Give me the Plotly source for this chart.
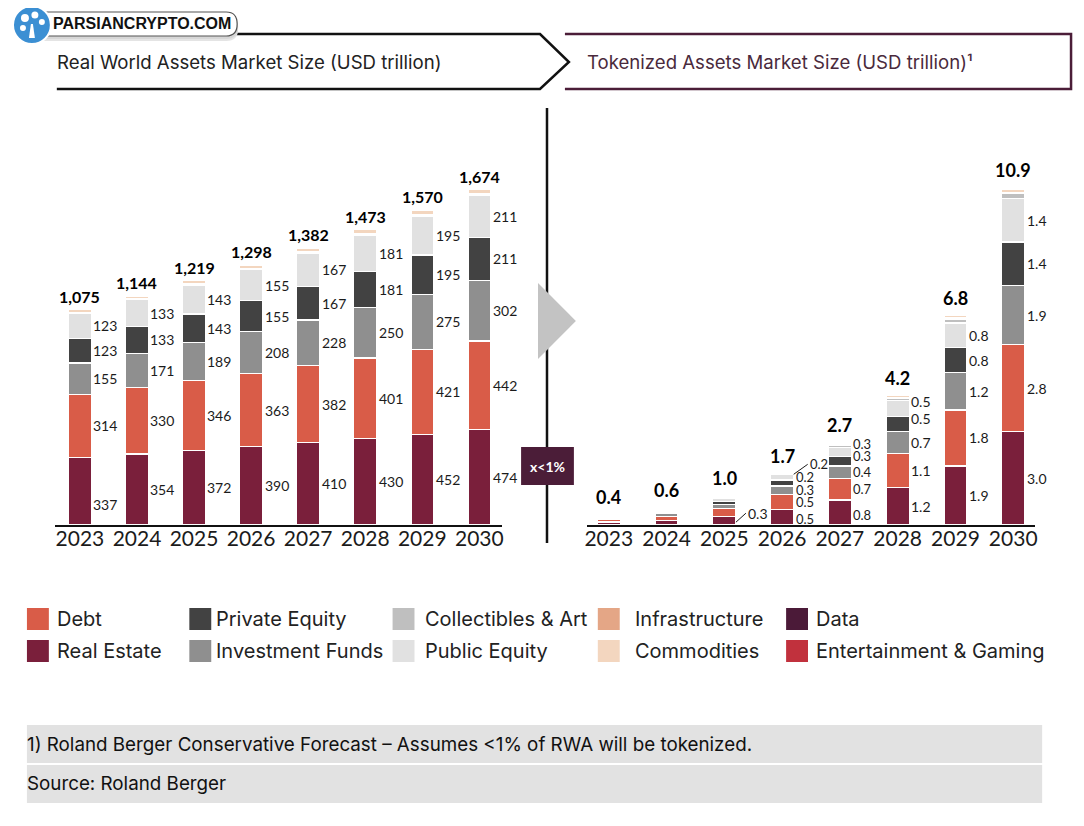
import plotly.graph_objects as go

# The page body has an 8px margin, so the figure is sized to fit the window exactly
OFF = 8
W, H = 1084 - OFF, 826 - OFF

# ---------------- DATA ----------------
years = ["2023", "2024", "2025", "2026", "2027", "2028", "2029", "2030"]
categories = ["Real Estate", "Debt", "Investment Funds", "Private Equity", "Public Equity",
              "Collectibles & Art", "Infrastructure", "Commodities", "Data", "Entertainment & Gaming"]

# Real World Assets (USD trillion)
rwa_real_estate = [337, 354, 372, 390, 410, 430, 452, 474]
rwa_debt = [314, 330, 346, 363, 382, 401, 421, 442]
rwa_investment_funds = [155, 171, 189, 208, 228, 250, 275, 302]
rwa_private_equity = [123, 133, 143, 155, 167, 181, 195, 211]
rwa_public_equity = [123, 133, 143, 155, 167, 181, 195, 211]
rwa_collectibles = [3, 3, 4, 4, 4, 4, 5, 5]
rwa_infrastructure = [2, 2, 2, 2, 2, 3, 3, 3]
rwa_commodities = [14, 14, 16, 17, 18, 19, 20, 22]
rwa_data = [2, 2, 2, 2, 2, 2, 2, 2]
rwa_entertainment = [2, 2, 2, 2, 2, 2, 2, 2]
rwa_totals = [1075, 1144, 1219, 1298, 1382, 1473, 1570, 1674]

# Tokenized Assets (USD trillion)
tok_real_estate = [0.1, 0.15, 0.28, 0.5, 0.8, 1.2, 1.9, 3.0]
tok_debt = [0.09, 0.13, 0.24, 0.47, 0.7, 1.1, 1.8, 2.8]
tok_investment_funds = [0.05, 0.08, 0.14, 0.28, 0.4, 0.7, 1.2, 1.9]
tok_private_equity = [0.04, 0.06, 0.1, 0.2, 0.3, 0.5, 0.8, 1.4]
tok_public_equity = [0.04, 0.06, 0.1, 0.18, 0.3, 0.5, 0.8, 1.4]
tok_collectibles = [0.03, 0.04, 0.04, 0.03, 0.06, 0.06, 0.1, 0.15]
tok_infrastructure = [0.01, 0.02, 0.02, 0.01, 0.03, 0.04, 0.06, 0.05]
tok_commodities = [0.02, 0.03, 0.04, 0.02, 0.05, 0.06, 0.08, 0.1]
tok_data = [0.01, 0.02, 0.02, 0.01, 0.03, 0.02, 0.03, 0.05]
tok_entertainment = [0.01, 0.01, 0.02, 0.0, 0.03, 0.02, 0.03, 0.05]
tok_totals = [0.4, 0.6, 1.0, 1.7, 2.7, 4.2, 6.8, 10.9]

# legend layout (columns x rows as in the reference)
legend_grid = [["Debt", "Real Estate"], ["Private Equity", "Investment Funds"],
               ["Collectibles & Art", "Public Equity"], ["Infrastructure", "Commodities"],
               ["Data", "Entertainment & Gaming"]]

left_title = "Real World Assets Market Size (USD trillion)"
right_title = "Tokenized Assets Market Size (USD trillion)¹"
footnote = "1) Roland Berger Conservative Forecast – Assumes <1% of RWA will be tokenized."
source = "Source: Roland Berger"
badge = "x<1%"
logo_text = "PARSIANCRYPTO.COM"

# ---------------- STYLE ----------------
colors = {
    "Real Estate": "#7a1f3b",
    "Debt": "#d95c48",
    "Investment Funds": "#8f8f8f",
    "Private Equity": "#424242",
    "Public Equity": "#e1e1e1",
    "Collectibles & Art": "#bfbfbf",
    "Infrastructure": "#e4a686",
    "Commodities": "#f3d6bf",
    "Data": "#4b1a38",
    "Entertainment & Gaming": "#c1313d",
}
NUMFONT = "Lato"
FONT = "Inter"
TXT = "#1b1b1b"
MAROON = "#4b1d38"

rwa = [rwa_real_estate, rwa_debt, rwa_investment_funds, rwa_private_equity, rwa_public_equity,
       rwa_collectibles, rwa_infrastructure, rwa_commodities, rwa_data, rwa_entertainment]
tok = [tok_real_estate, tok_debt, tok_investment_funds, tok_private_equity, tok_public_equity,
       tok_collectibles, tok_infrastructure, tok_commodities, tok_data, tok_entertainment]

xi = list(range(len(years)))


def px(x):
    return (x - OFF) / W


def py(y):
    return 1 - (y - OFF) / H


fig = go.Figure()
for name, vals in zip(categories, rwa):
    fig.add_trace(go.Bar(x=xi, y=vals, name=name, width=0.4, marker_color=colors[name],
                         marker_line=dict(color="white", width=1.3), xaxis="x", yaxis="y",
                         showlegend=False, hoverinfo="skip"))
for name, vals in zip(categories, tok):
    fig.add_trace(go.Bar(x=xi, y=vals, name=name, width=0.4, marker_color=colors[name],
                         marker_line=dict(color="white", width=1.3), xaxis="x2", yaxis="y2",
                         showlegend=False, hoverinfo="skip"))

ann = []
lab_font = dict(family=NUMFONT, size=14, color=TXT)
small_font = dict(family=NUMFONT, size=13, color=TXT)
# Left segment labels + totals
left_adj = {(0, 0): -13}
for i in xi:
    base = 0
    for k in range(5):
        v = rwa[k][i]
        ann.append(dict(x=i + 0.2, y=base + v / 2, xref="x", yref="y", text=f"{v}",
                        showarrow=False, xanchor="left", yanchor="middle",
                        yshift=left_adj.get((i, k), 0), font=lab_font))
        base += v
    ann.append(dict(x=i, y=sum(r[i] for r in rwa), xref="x", yref="y",
                    text=f"<b>{rwa_totals[i]:,}</b>", showarrow=False, xanchor="center",
                    yanchor="bottom", yshift=1, font=dict(family=NUMFONT, size=16, color="#000")))

# Right segment labels (small stacks need slight vertical spreading)
right_adj = {(3, 0): -2, (3, 2): 0, (3, 3): 6, (4, 0): -2, (4, 3): 5, (4, 4): 8,
             (5, 3): 5, (5, 4): 7}
for i in xi:
    base = 0
    f = small_font if i in (3, 4) else lab_font
    for k in range(5):
        v = tok[k][i]
        label = f"{v:.1f}"
        if i >= 3:
            if i == 3 and k == 4:
                ann.append(dict(x=i + 0.2, y=base + v, xref="x2", yref="y2", text=label,
                                showarrow=True, arrowhead=0, arrowwidth=1, arrowcolor=TXT,
                                ax=14, ay=-10, xanchor="left", yanchor="middle", font=f))
            else:
                ann.append(dict(x=i + 0.2, y=base + v / 2, xref="x2", yref="y2", text=label,
                                showarrow=False, xanchor="left", yanchor="middle",
                                yshift=right_adj.get((i, k), 0), font=f))
        elif i == 2 and k == 0:
            ann.append(dict(x=i + 0.2, y=base + v / 2 - 0.05, xref="x2", yref="y2", text=label,
                            showarrow=True, arrowhead=0, arrowwidth=1, arrowcolor=TXT,
                            ax=10, ay=-9, xanchor="left", yanchor="middle", font=lab_font))
        base += v
    ann.append(dict(x=i, y=sum(r[i] for r in tok), xref="x2", yref="y2",
                    text=f"<b>{tok_totals[i]:.1f}</b>", showarrow=False, xanchor="center",
                    yanchor="bottom", yshift=3, font=dict(family=NUMFONT, size=18, color="#000")))


def paper_text(x, y, text, size, color, anchor="left", family=FONT):
    ann.append(dict(x=px(x), y=py(y), xref="paper", yref="paper", xanchor=anchor,
                    yanchor="middle", text=text, showarrow=False,
                    font=dict(family=family, size=size, color=color)))


shapes = []
# Left header chevron
shapes.append(dict(type="path", xref="paper", yref="paper",
                   path=f"M {px(200)},{py(34)} L {px(540)},{py(34)} L {px(569)},{py(62)} "
                        f"L {px(540)},{py(89)} L {px(55)},{py(89)}",
                   line=dict(color="#111", width=2.5)))
# Right header box (open on the left)
shapes.append(dict(type="path", xref="paper", yref="paper",
                   path=f"M {px(565)},{py(34)} L {px(1073)},{py(34)} L {px(1073)},{py(89)} "
                        f"L {px(565)},{py(89)}",
                   line=dict(color=MAROON, width=2.5)))
paper_text(53, 62, left_title, 18.6, "#222")
paper_text(585, 62, right_title, 18.6, "#4a2a3c")

# Logo pill (with soft shadow)
for dy, col in [(5, "#e4e4e4"), (3, "#d6d6d6")]:
    shapes.append(dict(type="path", xref="paper", yref="paper",
                       path=f"M {px(40)},{py(12 + dy)} L {px(225)},{py(12 + dy)} "
                            f"Q {px(237)},{py(12 + dy)} {px(237)},{py(24 + dy)} "
                            f"Q {px(237)},{py(36 + dy)} {px(225)},{py(36 + dy)} L {px(40)},{py(36 + dy)} Z",
                       fillcolor=col, line=dict(width=0), layer="above"))
shapes.append(dict(type="path", xref="paper", yref="paper",
                   path=f"M {px(40)},{py(12)} L {px(225)},{py(12)} Q {px(236)},{py(12)} {px(236)},{py(24)} "
                        f"Q {px(236)},{py(36)} {px(225)},{py(36)} L {px(40)},{py(36)} Z",
                   fillcolor="white", line=dict(color="#555", width=1.2), layer="above"))
shapes.append(dict(type="circle", xref="paper", yref="paper",
                   x0=px(11), x1=px(49), y0=py(44), y1=py(6),
                   fillcolor="#3b8fd3", line=dict(color="white", width=2), layer="above"))
for cx, cy, r in [(23, 18, 4), (33, 15, 3.5), (40, 22, 3), (21, 28, 3)]:
    shapes.append(dict(type="circle", xref="paper", yref="paper",
                       x0=px(cx - r), x1=px(cx + r), y0=py(cy + r), y1=py(cy - r),
                       fillcolor="white", line=dict(width=0), layer="above"))
shapes.append(dict(type="path", xref="paper", yref="paper",
                   path=f"M {px(27)},{py(38)} L {px(29)},{py(24)} L {px(31)},{py(24)} L {px(33)},{py(38)} Z",
                   fillcolor="white", line=dict(width=0), layer="above"))
paper_text(140, 24, f"<b>{logo_text}</b>", 16, "#111", anchor="center", family="Liberation Sans")

# Divider, arrow and ratio badge
shapes.append(dict(type="line", xref="paper", yref="paper", x0=px(547), x1=px(547),
                   y0=py(108), y1=py(543), line=dict(color="#111", width=2.5)))
shapes.append(dict(type="path", xref="paper", yref="paper",
                   path=f"M {px(538)},{py(283)} L {px(576)},{py(321)} L {px(538)},{py(359)} Z",
                   fillcolor="#c3c3c3", line=dict(width=0)))
shapes.append(dict(type="rect", xref="paper", yref="paper", x0=px(521), x1=px(574),
                   y0=py(485), y1=py(447), fillcolor=MAROON, line=dict(width=0)))
paper_text(547.5, 466, f"<b>{badge}</b>", 14, "white", anchor="center", family=NUMFONT)

# Legend
sq_x = [25, 188, 392, 598, 787]
tx_x = [53, 213, 423, 633, 815]
row_y = [619, 651]
for c, col in enumerate(legend_grid):
    for r, name in enumerate(col):
        shapes.append(dict(type="rect", xref="paper", yref="paper",
                           x0=px(sq_x[c]), x1=px(sq_x[c] + 22),
                           y0=py(row_y[r] + 11), y1=py(row_y[r] - 11),
                           fillcolor=colors[name], line=dict(width=0)))
        paper_text(tx_x[c], row_y[r], name, 20, "#222")

# Footer bands
shapes.append(dict(type="rect", xref="paper", yref="paper", x0=px(25), x1=px(1044),
                   y0=py(763), y1=py(725), fillcolor="#e2e2e2", line=dict(width=0)))
shapes.append(dict(type="rect", xref="paper", yref="paper", x0=px(25), x1=px(1044),
                   y0=py(803), y1=py(765), fillcolor="#e2e2e2", line=dict(width=0)))
paper_text(23, 744, footnote, 18.8, "#111")
paper_text(23, 783, source, 18.8, "#111")

axis_common = dict(showgrid=False, zeroline=False, ticks="", showline=True,
                   linecolor="#111", linewidth=2, tickmode="array", tickvals=xi,
                   ticktext=years, tickfont=dict(family=NUMFONT, size=21, color=TXT),
                   ticklabelstandoff=-6, fixedrange=True)

fig.update_layout(
    width=W, height=H, margin=dict(l=0, r=0, t=0, b=0),
    paper_bgcolor="white", plot_bgcolor="white",
    barmode="stack", showlegend=False,
    xaxis=dict(domain=[px(53), px(502)], range=[-0.44, 7.4], anchor="y", **axis_common),
    yaxis=dict(domain=[py(525), py(150)], range=[0, 375 / 0.201], visible=False, anchor="x"),
    xaxis2=dict(domain=[px(587), px(1037)], range=[-0.38, 7.38], anchor="y2", **axis_common),
    yaxis2=dict(domain=[py(525), py(150)], range=[0, 375 / 31.1], visible=False, anchor="x2"),
    shapes=shapes, annotations=ann,
)

fig.write_html("out.html")
